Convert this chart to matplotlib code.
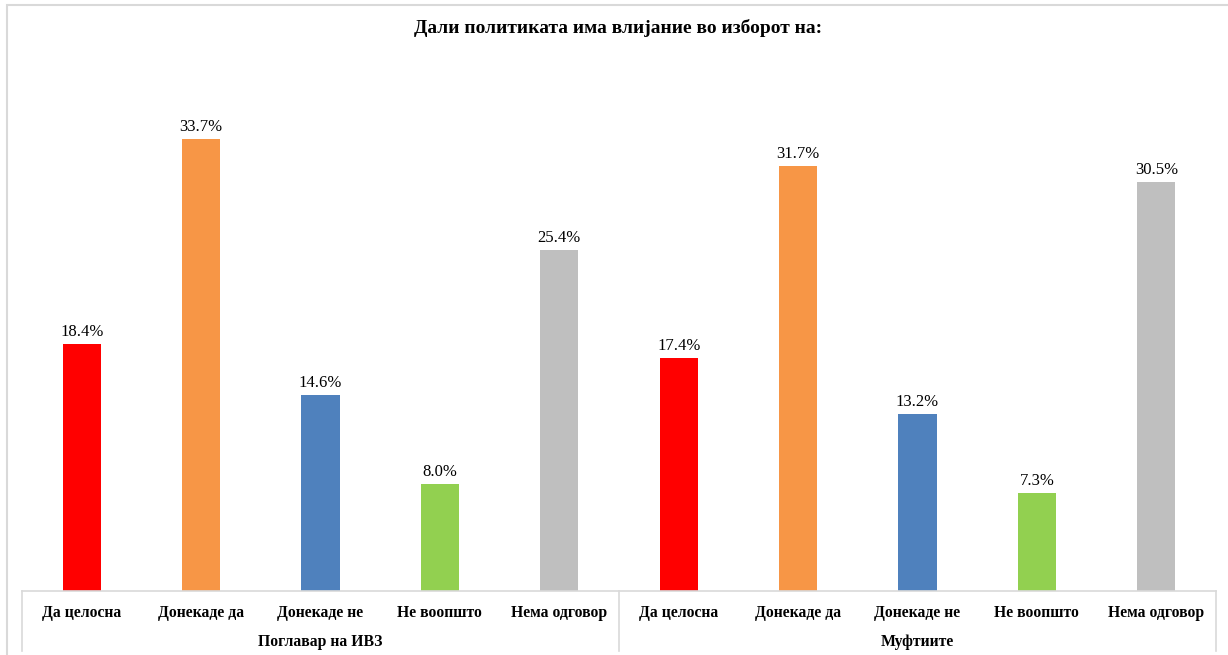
import matplotlib
matplotlib.use("Agg")
import matplotlib.pyplot as plt
from matplotlib.lines import Line2D
from matplotlib.patches import Rectangle

title = "Дали политиката има влијание во изборот на:"
groups = ["Поглавар на ИВЗ", "Муфтиите"]
categories = ["Да целосна", "Донекаде да", "Донекаде не", "Не воопшто", "Нема одговор"]
values_ivz = [18.4, 33.7, 14.6, 8.0, 25.4]
values_mufti = [17.4, 31.7, 13.2, 7.3, 30.5]
colors = ["#FF0000", "#F79646", "#4F81BD", "#92D050", "#BFBFBF"]

plt.rcParams['font.family'] = ['Liberation Serif', 'DejaVu Serif']

W, H = 1228, 655
fig = plt.figure(figsize=(W / 100, H / 100), dpi=100)

# outer light frame
fig.add_artist(Rectangle((7 / W, -0.1), 1.2, 1 - 5 / H + 0.1, transform=fig.transFigure,
                         fill=False, edgecolor="#D9D9D9", linewidth=1.5))

y_base, y_top = 591, 54.6
ax_left, ax_right = 22 / W, 1216 / W
ax_bottom = (H - y_base) / H
ax_top = (H - y_top) / H
ax = fig.add_axes([ax_left, ax_bottom, ax_right - ax_left, ax_top - ax_bottom])
ax_h = y_base - y_top

all_vals = values_ivz + values_mufti
all_cols = colors + colors
x = list(range(len(all_vals)))
ax.bar(x, all_vals, width=0.32, color=all_cols)
for xi, v in zip(x, all_vals):
    ax.text(xi, v + 0.3, f"{v:.1f}%", ha="center", va="bottom", fontsize=12)

ax.set_xlim(-0.5, len(all_vals) - 0.5)
ax.set_ylim(0, 40)
ax.set_yticks([])
ax.set_xticks([])
for s in ["top", "right", "left"]:
    ax.spines[s].set_visible(False)
ax.spines["bottom"].set_color("#D9D9D9")
ax.spines["bottom"].set_linewidth(1.2)

trans = ax.get_xaxis_transform()
# category labels
for xi in x:
    ax.text(xi, -(613 - y_base) / ax_h, categories[xi % len(categories)], transform=trans,
            ha="center", va="center", fontsize=11.3, fontweight="bold")
# group labels
n = len(categories)
for gi, g in enumerate(groups):
    ax.text(gi * n + (n - 1) / 2, -(642 - y_base) / ax_h, g, transform=trans,
            ha="center", va="center", fontsize=11.3, fontweight="bold")
# separators
for xs in [-0.5, n - 0.5, 2 * n - 0.5]:
    ax.add_line(Line2D([xs, xs], [0, -(651 - y_base) / ax_h], transform=trans,
                       color="#D9D9D9", linewidth=1.2, clip_on=False))

fig.text(618 / W, 1 - 28 / H, title, ha="center", va="center", fontsize=14, fontweight="bold")

fig.savefig("out.png", dpi=100)
